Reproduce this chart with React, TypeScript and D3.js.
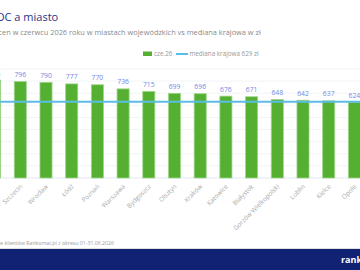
import React from "react";
import * as d3 from "d3";

const cities = ["Gdańsk", "Szczecin", "Wrocław", "Łódź", "Poznań", "Warszawa", "Bydgoszcz", "Olsztyn", "Kraków", "Katowice", "Białystok", "Gorzów Wielkopolski", "Lublin", "Kielce", "Opole"];
const values = [808, 796, 790, 777, 770, 736, 715, 699, 696, 676, 671, 648, 642, 637, 624];
const median = 629;
const yTicks = [0, 100, 200, 300, 400, 500, 600, 700, 800, 900];
const seriesLabel = "cze.26";
const medianLabel = "mediana krajowa 629 zł";

const W = 360;
const H = 270;

export default function App() {
  const x = d3.scaleBand<string>().domain(cities).range([-18.25, 367.25]).paddingInner(0.53).paddingOuter(0.265);
  const y = d3.scaleLinear().domain([0, 900]).range([178, 69]);
  const font = "'Open Sans', 'Noto Sans', sans-serif";
  return (
    <svg width={W} height={H} style={{ position: "absolute", left: 0, top: 0, display: "block" }} fontFamily={font}>
      <rect x={0} y={0} width={W} height={H} fill="#ffffff" />
      <text x={-4} y={21} fontSize={11} fill="#26338a">OC a miasto</text>
      <text x={-1.5} y={35} fontSize={7.4} fill="#8a8a8a">cen w czerwcu 2026 roku w miastach wojewódzkich vs mediana krajowa w zł</text>
      {/* legend */}
      <rect x={143} y={51.5} width={9} height={4.5} fill="#55b032" />
      <text x={154} y={56} fontSize={6.3} fill="#999">{seriesLabel}</text>
      <line x1={176} x2={188} y1={54} y2={54} stroke="#5bbde6" strokeWidth={2} />
      <text x={189.5} y={56} fontSize={6.3} fill="#999">{medianLabel}</text>
      {/* grid */}
      {yTicks.map((t) => (
        <line key={t} x1={0} x2={W} y1={y(t)} y2={y(t)} stroke={t === 0 ? "#e2e8f2" : "#f2f3f6"} strokeWidth={1} />
      ))}
      {/* bars */}
      {cities.map((c, i) => (
        <g key={c}>
          <rect x={x(c)} y={y(values[i])} width={x.bandwidth()} height={y(0) - y(values[i])} fill="#55b032" stroke="#9fd68a" strokeWidth={0.8} />
          <text x={(x(c) as number) + x.bandwidth() / 2} y={y(values[i]) - 4.5} fontSize={6.8} fill="#7489e3" textAnchor="middle">{values[i]}</text>
          <text
            transform={`translate(${(x(c) as number) + x.bandwidth() / 2 + 2.5},${187}) rotate(-45)`}
            fontSize={6.4}
            fill="#a8a8a8"
            textAnchor="end"
          >{c}</text>
        </g>
      ))}
      {/* median */}
      <line x1={0} x2={W} y1={y(median)} y2={y(median)} stroke="#5bbde6" strokeWidth={2} />
      {/* footer */}
      <text x={-1} y={244.5} fontSize={5.2} fill="#9a9a9a">je klientów Rankomat.pl z okresu 01-31.06.2026</text>
      <line x1={0} x2={W} y1={248.5} y2={248.5} stroke="#d8d8d8" strokeWidth={0.8} />
      <rect x={0} y={249} width={W} height={H - 249} fill="#112275" />
      <text x={341} y={263} fontSize={9} fontWeight={700} fill="#ffffff">rankomat</text>
    </svg>
  );
}
